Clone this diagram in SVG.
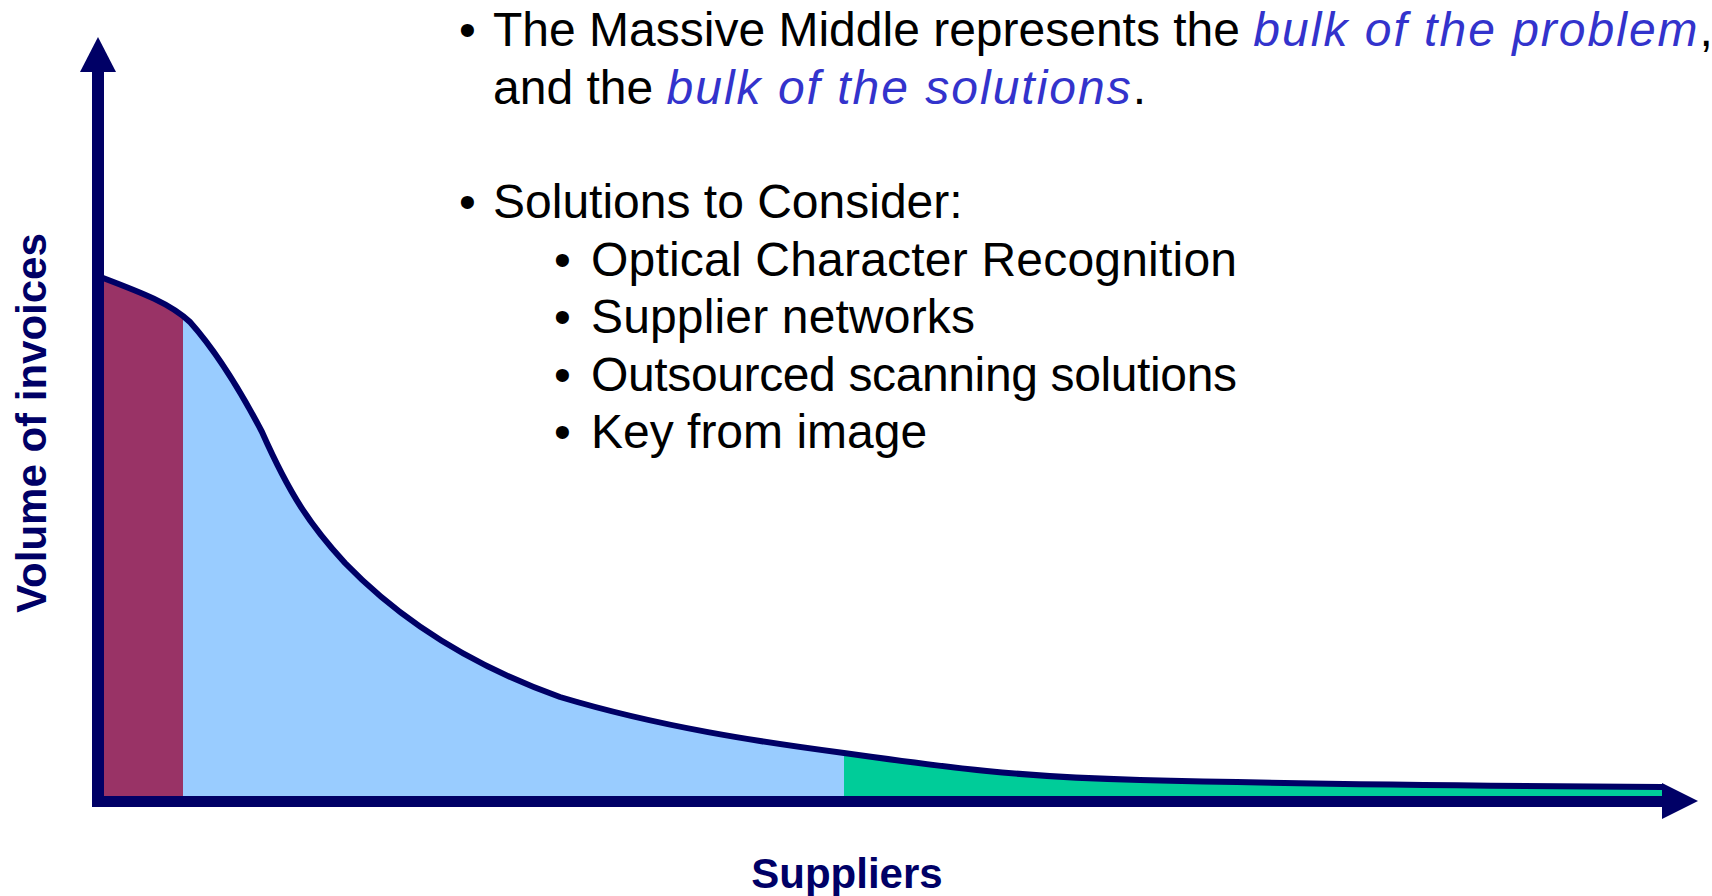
<svg xmlns="http://www.w3.org/2000/svg" width="1712" height="896" viewBox="0 0 1712 896">
  <style>
    .body { font-family: "Liberation Sans", Arial, sans-serif; font-size: 48px; fill: #000000; }
    .em { font-style: italic; fill: #3333CC; letter-spacing: 2px; }
    .axislabel { font-family: "Liberation Sans", Arial, sans-serif; font-weight: bold; font-size: 42px; fill: #000066; }
    .curve { fill: none; stroke: #000066; stroke-width: 6; stroke-linejoin: round; stroke-linecap: round; }
    .axis { fill: #000066; }
  </style>
  <defs>
    <clipPath id="area">
      <path d="M98,276 C140,292 170,303 190,322 C215,350 240,390 262,432 C290,495 310,525 345,563 C400,620 470,665 560,697 C660,727 760,742 844,753 C950,768 1020,777 1140,780 C1300,784 1500,786 1662,787 L1662,800 L98,800 Z"/>
    </clipPath>
  </defs>
  <rect width="1712" height="896" fill="#ffffff"/>

  <g id="region-top" clip-path="url(#area)">
    <rect x="98" y="250" width="85" height="550" fill="#993366"/>
  </g>
  <g id="region-middle" clip-path="url(#area)">
    <rect x="183" y="250" width="661" height="550" fill="#99CCFF"/>
  </g>
  <g id="region-tail" clip-path="url(#area)">
    <rect x="844" y="250" width="818" height="550" fill="#00CC99"/>
  </g>

  <g id="curve">
    <path class="curve" d="M98,276 C140,292 170,303 190,322 C215,350 240,390 262,432 C290,495 310,525 345,563 C400,620 470,665 560,697 C660,727 760,742 844,753 C950,768 1020,777 1140,780 C1300,784 1500,786 1662,787"/>
  </g>

  <g id="connectors">
    <g id="y-axis">
      <rect class="axis" x="92" y="70" width="12" height="737"/>
      <polygon class="axis" points="80,72 116,72 98,37"/>
    </g>
    <g id="x-axis">
      <rect class="axis" x="92" y="796" width="1572" height="11"/>
      <polygon class="axis" points="1662,783 1698,801 1662,819"/>
    </g>
  </g>

  <g id="label-y">
    <text class="axislabel" transform="translate(46,423) rotate(-90)" text-anchor="middle" font-size="43">Volume of invoices</text>
  </g>
  <g id="label-x">
    <text class="axislabel" x="847" y="888" text-anchor="middle">Suppliers</text>
  </g>

  <g id="notes">
    <text class="body" x="459" y="46">•</text>
    <text class="body" x="493" y="46">The Massive Middle represents the <tspan class="em">bulk of the problem</tspan>,</text>
    <text class="body" x="493" y="104">and the <tspan class="em">bulk of the solutions</tspan>.</text>
    <text class="body" x="459" y="218">•</text>
    <text class="body" x="493" y="218">Solutions to Consider:</text>
    <text class="body" x="554" y="276">•</text>
    <text class="body" x="591" y="276" textLength="646" lengthAdjust="spacing">Optical Character Recognition</text>
    <text class="body" x="554" y="333">•</text>
    <text class="body" x="591" y="333" textLength="384" lengthAdjust="spacing">Supplier networks</text>
    <text class="body" x="554" y="391">•</text>
    <text class="body" x="591" y="391" textLength="646" lengthAdjust="spacing">Outsourced scanning solutions</text>
    <text class="body" x="554" y="448">•</text>
    <text class="body" x="591" y="448">Key from image</text>
  </g>
</svg>
